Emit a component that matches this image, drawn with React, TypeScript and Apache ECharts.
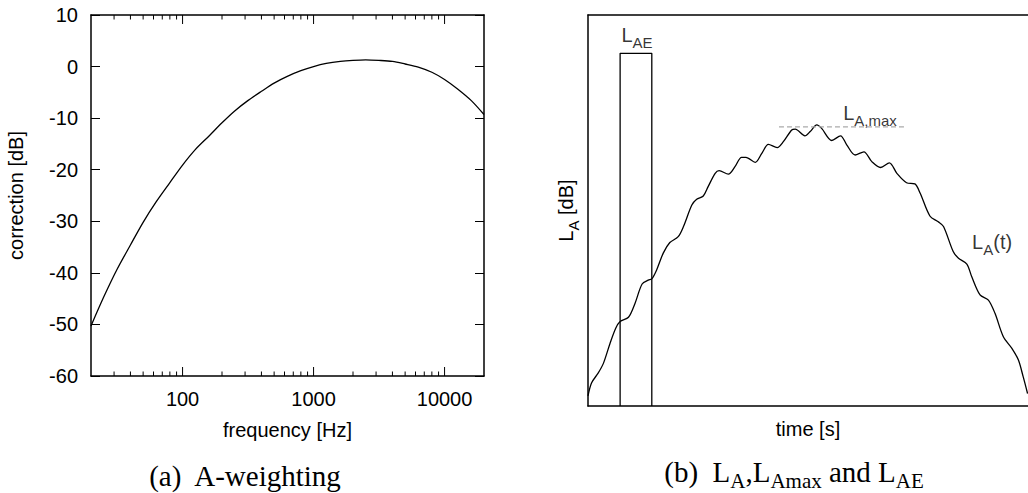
import React, { useEffect, useRef } from 'react';
import * as echarts from 'echarts';

// ---- (a) A-weighting ----
const freqHz = [20, 25, 31.5, 40, 50, 63, 80, 100, 125, 160, 200, 250, 315, 400, 500, 630, 800, 1000, 1250, 1600, 2000, 2500, 3150, 4000, 5000, 6300, 8000, 10000, 12500, 16000, 20000];
const correctionDb = [-50.3, -44.7, -39.4, -34.6, -30.2, -26.2, -22.5, -19.1, -16.1, -13.4, -10.9, -8.6, -6.6, -4.8, -3.2, -1.9, -0.8, 0, 0.6, 1.0, 1.2, 1.3, 1.2, 1.0, 0.5, -0.1, -1.1, -2.5, -4.3, -6.6, -9.3];
const xMajorTicks = [100, 1000, 10000];
const xMinorTicks = [30, 40, 50, 60, 70, 80, 90, 200, 300, 400, 500, 600, 700, 800, 900, 2000, 3000, 4000, 5000, 6000, 7000, 8000, 9000];
const freqMin = 20;
const freqMax = 20000;
const dbMin = -60;
const dbMax = 10;
const dbStep = 10;

// ---- (b) L_A(t), L_Amax, L_AE ----
const timeS = [0, 0.8, 2.3, 3.5, 5.0, 6.3, 7.3, 9.2, 10.7, 12.3, 13.7, 14.5, 15.6, 17.1, 18.6, 20.5, 21.7, 23.6, 24.7, 26.2, 27.3, 28.9, 29.8, 31.9, 33.4, 34.9, 35.9, 38.0, 39.5, 41.0, 43.0, 44.4, 46.3, 47.1, 49.3, 50.5, 52.0, 53.1, 55.4, 57.4, 58.8, 60.7, 62.7, 64.5, 66.5, 68.5, 70.2, 72.4, 74.3, 75.5, 77.7, 79.6, 80.8, 83.0, 84.2, 86.1, 87.2, 89.1, 91.0, 92.5, 94.4, 96.3, 97.8, 98.9, 99.9];
const levelDb = [2.6, 5.9, 8.4, 10.9, 16.0, 19.9, 21.6, 22.7, 26.3, 31.2, 32.2, 32.5, 34.8, 39.1, 41.8, 43.3, 45.9, 51.4, 52.9, 53.7, 56.1, 59.5, 60.2, 59.3, 61.2, 63.6, 63.6, 62.3, 64.6, 66.9, 66.1, 67.6, 70.6, 70.8, 69.1, 70.2, 71.9, 71.0, 67.9, 69.1, 66.8, 64.2, 65.0, 62.5, 61.0, 62.2, 59.5, 57.1, 56.8, 54.4, 48.6, 47.1, 45.9, 39.5, 37.8, 36.3, 33.1, 28.4, 27.1, 23.7, 17.7, 14.8, 11.8, 7.5, 3.2];
const laeSpan = [7.3, 14.5];
const laeLevel = 90.2;
const lamaxSpan = [43.4, 72.3];
const lamaxLevel = 71.4;
const labelTexts = ['{L|L}{s|AE}', '{L|L}{s|A,max}', '{L|L}{s|A}{L|(t)}'];
const labelPos = [[7.6, 91.1], [58.0, 71.1], [87.3, 38.2]];

const sans = "'Liberation Sans', Arial, Helvetica, sans-serif";
const serif = "'Liberation Serif', 'Times New Roman', serif";
const FS = 20;
const black = '#000';

const richSans = {
  L: { fontFamily: sans, fontSize: FS, lineHeight: 25, verticalAlign: 'top', color: black },
  s: { fontFamily: sans, fontSize: 15, lineHeight: 15, verticalAlign: 'bottom', color: black },
};
const richSerif = {
  n: { fontFamily: serif, fontSize: 29, lineHeight: 34, verticalAlign: 'top', color: black },
  s: { fontFamily: serif, fontSize: 21, lineHeight: 21, verticalAlign: 'bottom', color: black },
};

const frameLine = { show: true, onZero: false, lineStyle: { color: black, width: 1.5 } };

export default function App() {
  const ref = useRef<HTMLDivElement>(null);
  useEffect(() => {
    if (!ref.current) return;
    const chart = echarts.init(ref.current, null, { renderer: 'svg' });
    const tickData = [
      ...xMajorTicks.map((f) => [f, 1]),
      ...xMinorTicks.map((f) => [f, 0]),
    ];
    const option: any = {
      animation: false,
      backgroundColor: '#fff',
      grid: [
        { left: 91, top: 15, width: 393, height: 361 },
        { left: 588, top: 15, width: 440, height: 391 },
      ],
      xAxis: [
        {
          gridIndex: 0, type: 'log', logBase: 10, min: freqMin, max: freqMax, position: 'bottom',
          axisLine: frameLine, axisTick: { show: false }, splitLine: { show: false },
          axisLabel: {
            customValues: xMajorTicks,
            formatter: (v: number) => (xMajorTicks.some((m) => Math.abs(m - v) < 1e-6 * m) ? String(Math.round(v)) : ''),
            fontFamily: sans, fontSize: FS, color: black, margin: 13,
          },
          name: 'frequency [Hz]', nameLocation: 'middle', nameGap: 44,
          nameTextStyle: { fontFamily: sans, fontSize: FS, color: black },
        },
        {
          gridIndex: 0, type: 'log', logBase: 10, min: freqMin, max: freqMax, position: 'top',
          axisLine: frameLine, axisTick: { show: false }, axisLabel: { show: false }, splitLine: { show: false },
        },
        {
          gridIndex: 1, type: 'value', min: 0, max: 100, position: 'bottom',
          axisLine: frameLine, axisTick: { show: false }, axisLabel: { show: false }, splitLine: { show: false },
          name: 'time [s]', nameLocation: 'middle', nameGap: 13,
          nameTextStyle: { fontFamily: sans, fontSize: FS, color: black },
        },
        {
          gridIndex: 1, type: 'value', min: 0, max: 100, position: 'top',
          axisLine: frameLine, axisTick: { show: false }, axisLabel: { show: false }, splitLine: { show: false },
        },
      ],
      yAxis: [
        {
          gridIndex: 0, type: 'value', min: dbMin, max: dbMax, interval: dbStep, position: 'left',
          axisLine: frameLine, splitLine: { show: false },
          axisTick: { show: true, inside: true, length: 9, lineStyle: { color: black, width: 1 } },
          axisLabel: { fontFamily: sans, fontSize: FS, color: black, margin: 13 },
          name: 'correction [dB]', nameLocation: 'middle', nameGap: 65, nameRotate: 90,
          nameTextStyle: { fontFamily: sans, fontSize: FS, color: black },
        },
        {
          gridIndex: 0, type: 'value', min: dbMin, max: dbMax, interval: dbStep, position: 'right',
          axisLine: frameLine, splitLine: { show: false }, axisLabel: { show: false },
          axisTick: { show: true, inside: true, length: 9, lineStyle: { color: black, width: 1 } },
        },
        {
          gridIndex: 1, type: 'value', min: 0, max: 100, position: 'left',
          axisLine: frameLine, axisTick: { show: false }, axisLabel: { show: false }, splitLine: { show: false },
          name: '{L|L}{s|A}{L| [dB]}', nameLocation: 'middle', nameGap: 7, nameRotate: 90,
          nameTextStyle: { rich: richSans },
        },
      ],
      series: [
        {
          type: 'line', xAxisIndex: 0, yAxisIndex: 0, showSymbol: false, smooth: 0.3, silent: true,
          data: freqHz.map((f, i) => [f, correctionDb[i]]),
          lineStyle: { color: black, width: 1.3 },
        },
        {
          type: 'custom', xAxisIndex: 0, yAxisIndex: 0, silent: true, clip: false,
          data: tickData,
          renderItem: (params: any, api: any) => {
            const f = api.value(0);
            const len = api.value(1) === 1 ? 9 : 4.5;
            const b = api.coord([f, dbMin]);
            const t = api.coord([f, dbMax]);
            return {
              type: 'group',
              children: [
                { type: 'line', shape: { x1: b[0], y1: b[1], x2: b[0], y2: b[1] - len }, style: { stroke: black, lineWidth: 1 } },
                { type: 'line', shape: { x1: t[0], y1: t[1], x2: t[0], y2: t[1] + len }, style: { stroke: black, lineWidth: 1 } },
              ],
            };
          },
        },
        {
          type: 'line', xAxisIndex: 2, yAxisIndex: 2, showSymbol: false, smooth: 0.3, silent: true,
          data: timeS.map((t, i) => [t, levelDb[i]]),
          lineStyle: { color: black, width: 1.3 },
        },
        {
          type: 'line', xAxisIndex: 2, yAxisIndex: 2, showSymbol: false, silent: true,
          data: [[laeSpan[0], 0], [laeSpan[0], laeLevel], [laeSpan[1], laeLevel], [laeSpan[1], 0]],
          lineStyle: { color: black, width: 1.3 },
        },
        {
          type: 'line', xAxisIndex: 2, yAxisIndex: 2, showSymbol: false, silent: true,
          data: [[lamaxSpan[0], lamaxLevel], [lamaxSpan[1], lamaxLevel]],
          lineStyle: { color: '#aaa', width: 1.2, type: [5, 3] },
        },
        {
          type: 'scatter', xAxisIndex: 2, yAxisIndex: 2, symbolSize: 0, silent: true,
          data: labelPos.map((p, i) => ({
            value: p,
            label: {
              show: true, position: 'inside', align: 'left', verticalAlign: 'bottom',
              formatter: labelTexts[i], rich: richSans,
            },
          })),
        },
      ],
      graphic: [
        {
          type: 'text', x: 245, y: 476,
          style: { text: '(a)  A-weighting', fontFamily: serif, fontSize: 29, fill: black, align: 'center', verticalAlign: 'middle' },
        },
        {
          type: 'text', x: 794, y: 474,
          style: {
            text: '{n|(b)  L}{s|A}{n|,L}{s|Amax}{n| and L}{s|AE}',
            fontFamily: serif, fontSize: 29, fill: black, align: 'center', verticalAlign: 'middle',
            rich: richSerif,
          },
        },
      ],
    };
    chart.setOption(option);
    return () => chart.dispose();
  }, []);
  return <div ref={ref} style={{ position: 'absolute', left: 0, top: 0, width: 1028, height: 493, background: '#fff' }} />;
}
